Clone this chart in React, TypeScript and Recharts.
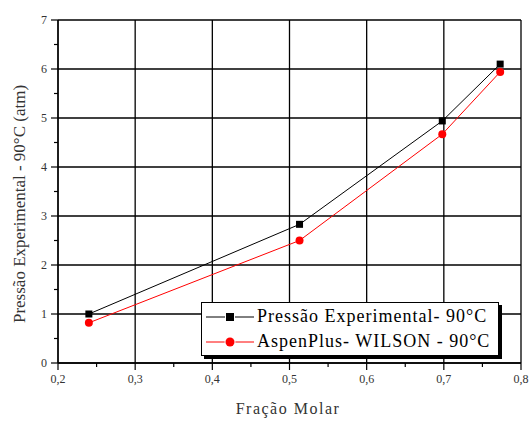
import React from "react";
import {
  CartesianGrid,
  Line,
  LineChart,
  XAxis,
  YAxis,
} from "recharts";

const fraction = [0.24, 0.513, 0.698, 0.773];
const pressureExp = [1.0, 2.83, 4.94, 6.1];
const pressureAspen = [0.82, 2.5, 4.67, 5.94];

const xMajor = [0.2, 0.3, 0.4, 0.5, 0.6, 0.7, 0.8];
const xTicks = [0.2, 0.25, 0.3, 0.35, 0.4, 0.45, 0.5, 0.55, 0.6, 0.65, 0.7, 0.75, 0.8];
const yMajor = [0, 1, 2, 3, 4, 5, 6, 7];
const yTicks = [0, 0.5, 1, 1.5, 2, 2.5, 3, 3.5, 4, 4.5, 5, 5.5, 6, 6.5, 7];

const seriesNames = ["Pressão Experimental- 90°C", "AspenPlus- WILSON - 90°C"];

const data = fraction.map((x, i) => ({
  x,
  exp: pressureExp[i],
  aspen: pressureAspen[i],
}));

const serif = "'Liberation Serif', 'Times New Roman', serif";

const isMajor = (v: number, majors: number[]) =>
  majors.some((m) => Math.abs(m - v) < 1e-6);

const XTick = (props: any) => {
  const { x, y, payload } = props;
  const major = isMajor(payload.value, xMajor);
  return (
    <g>
      <line x1={x} x2={x} y1={y - 8} y2={y - 8 + (major ? 7 : 4)} stroke="#000" strokeWidth={1.2} />
      {major && (
        <text x={x} y={y + 12} textAnchor="middle" fontSize={12} fontFamily={serif} fill="#333">
          {payload.value.toFixed(1).replace(".", ",")}
        </text>
      )}
    </g>
  );
};

const YTick = (props: any) => {
  const { x, y, payload } = props;
  const major = isMajor(payload.value, yMajor);
  return (
    <g>
      <line x1={x + 8} x2={x + 8 - (major ? 7 : 4)} y1={y} y2={y} stroke="#000" strokeWidth={1.2} />
      {major && (
        <text x={x - 3} y={y + 4} textAnchor="end" fontSize={12} fontFamily={serif} fill="#333">
          {payload.value}
        </text>
      )}
    </g>
  );
};

const Square = (props: any) => {
  const { cx, cy } = props;
  return <rect x={cx - 3.5} y={cy - 3.5} width={7} height={7} fill="#000" />;
};

const Dot = (props: any) => {
  const { cx, cy } = props;
  return <circle cx={cx} cy={cy} r={4} fill="#ff0000" />;
};

const LegendBox = () => (
  <div
    style={{
      position: "absolute",
      left: 201,
      top: 302,
      border: "1px solid #000",
      background: "#fff",
      boxShadow: "3px 3px 0 #000",
      padding: "1px 8px 1px 4px",
      fontFamily: serif,
      fontSize: 18,
      lineHeight: "25px",
      color: "#000",
    }}
  >
    {seriesNames.map((name, i) => (
      <div key={name} style={{ display: "flex", alignItems: "center", whiteSpace: "nowrap" }}>
        <svg width={48} height={12} style={{ marginRight: 3 }}>
          <line x1={0} x2={48} y1={6} y2={6} stroke={i === 0 ? "#000" : "#ff0000"} strokeWidth={1} />
          {i === 0 ? (
            <rect x={20} y={2} width={8} height={8} fill="#000" stroke="#fff" strokeWidth={2} paintOrder="stroke" />
          ) : (
            <circle cx={24} cy={6} r={4.5} fill="#ff0000" stroke="#fff" strokeWidth={2} paintOrder="stroke" />
          )}
        </svg>
        <span style={{ letterSpacing: 1 }}>{name}</span>
      </div>
    ))}
  </div>
);

export default function App() {
  return (
    <div style={{ position: "relative", width: 529, height: 423, background: "#fff" }}>
      <style>{"body{margin:0}"}</style>
      <LineChart
        width={529}
        height={423}
        data={data}
        margin={{ top: 20, right: 8, bottom: 20, left: 18 }}
      >
        <CartesianGrid
          stroke="#000"
          strokeWidth={1.3}
          horizontalValues={yMajor}
          verticalValues={xMajor}
        />
        <XAxis
          dataKey="x"
          type="number"
          domain={[0.2, 0.8]}
          ticks={xTicks}
          interval={0}
          tick={<XTick />}
          tickLine={false}
          axisLine={{ stroke: "#000", strokeWidth: 1.3 }}
          height={40}
        />
        <YAxis
          type="number"
          domain={[0, 7]}
          ticks={yTicks}
          interval={0}
          tick={<YTick />}
          tickLine={false}
          axisLine={{ stroke: "#000", strokeWidth: 1.3 }}
          width={40}
        />
        <Line
          dataKey="exp"
          stroke="#000"
          strokeWidth={1}
          dot={<Square />}
          activeDot={false}
          isAnimationActive={false}
        />
        <Line
          dataKey="aspen"
          stroke="#ff0000"
          strokeWidth={1}
          dot={<Dot />}
          activeDot={false}
          isAnimationActive={false}
        />
      </LineChart>
      <LegendBox />
      <svg
        width={529}
        height={423}
        style={{ position: "absolute", left: 0, top: 0, pointerEvents: "none" }}
      >
        <text
          x={0}
          y={0}
          transform="translate(25 204) rotate(-90)"
          textAnchor="middle"
          fontFamily={serif}
          fontSize={17}
          fill="#333"
        >
          Pressão Experimental - 90°C (atm)
        </text>
        <text
          x={288}
          y={414}
          textAnchor="middle"
          fontFamily={serif}
          fontSize={16}
          letterSpacing={1.5}
          fill="#333"
        >
          Fração Molar
        </text>
      </svg>
    </div>
  );
}
